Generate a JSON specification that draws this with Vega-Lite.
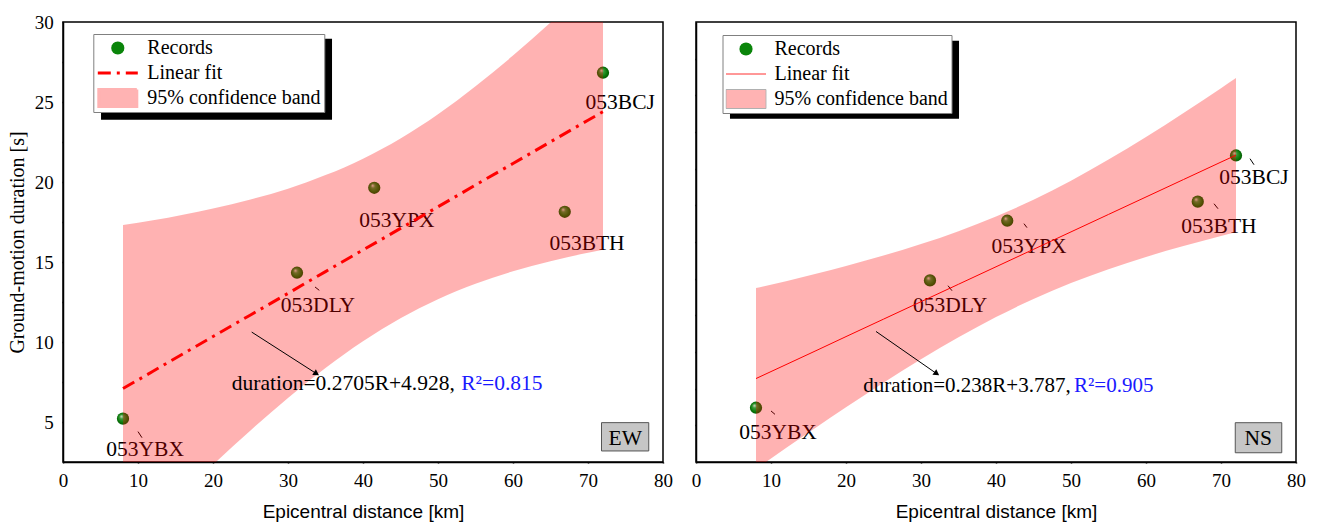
{
  "$schema": "https://vega.github.io/schema/vega-lite/v6.json",
  "padding": {"left": 6, "top": 12, "right": 5, "bottom": 5},
  "spacing": 33,
  "bounds": "flush",
  "resolve": {
    "scale": {"fill": "independent", "stroke": "independent", "shape": "independent", "strokeDash": "independent"},
    "legend": {"fill": "independent", "stroke": "independent", "shape": "independent", "strokeDash": "independent"}
  },
  "datasets": {
    "leg": [{"s": "Records"}, {"s": "Linear fit"}, {"s": "95% confidence band"}],
    "ew_shadow": [{"x": 5.07, "x2": 35.87, "y": 23.89, "y2": 28.96}],
    "ns_shadow": [{"x": 4.53, "x2": 35.07, "y": 23.41, "y2": 28.72}],
    "ew_pts": [
      {"x": 8, "y": 5.21}, {"x": 31.2, "y": 14.33}, {"x": 41.5, "y": 19.64}, {"x": 66.9, "y": 18.14}, {"x": 72, "y": 26.83}
    ],
    "ew_band": [
      {"x": 8, "lo": -3.13, "hi": 17.31, "fit": 7.09},
      {"x": 12, "lo": -1.27, "hi": 17.61, "fit": 8.17},
      {"x": 16, "lo": 0.56, "hi": 17.96, "fit": 9.26},
      {"x": 20, "lo": 2.33, "hi": 18.35, "fit": 10.34},
      {"x": 25, "lo": 4.47, "hi": 18.91, "fit": 11.69},
      {"x": 30, "lo": 6.5, "hi": 19.58, "fit": 13.04},
      {"x": 35, "lo": 8.37, "hi": 20.43, "fit": 14.4},
      {"x": 40, "lo": 10.04, "hi": 21.46, "fit": 15.75},
      {"x": 45, "lo": 11.48, "hi": 22.72, "fit": 17.1},
      {"x": 50, "lo": 12.67, "hi": 24.23, "fit": 18.45},
      {"x": 55, "lo": 13.64, "hi": 25.98, "fit": 19.81},
      {"x": 60, "lo": 14.42, "hi": 27.9, "fit": 21.16},
      {"x": 65, "lo": 15.05, "hi": 29.97, "fit": 22.51},
      {"x": 70, "lo": 15.58, "hi": 32.14, "fit": 23.86},
      {"x": 72, "lo": 15.77, "hi": 33.03, "fit": 24.4}
    ],
    "ew_lab": [
      {"x": 10.95, "y": 2.85, "t": "053YBX"},
      {"x": 34.0, "y": 11.89, "t": "053DLY"},
      {"x": 44.53, "y": 17.21, "t": "053YPX"},
      {"x": 69.87, "y": 15.77, "t": "053BTH"},
      {"x": 74.3, "y": 24.54, "t": "053BCJ"}
    ],
    "ew_lead": [
      {"x": 10.0, "y": 4.4, "x2": 10.53, "y2": 4.02},
      {"x": 33.6, "y": 13.44, "x2": 34.17, "y2": 13.23}
    ],
    "ew_arrow": [{"x": 25.16, "y": 10.62, "x2": 33.8, "y2": 8.02}],
    "ew_eq": [{"x": 22.5, "y": 6.98, "t": "duration=0.2705R+4.928,"}],
    "ew_r2": [{"x": 53.1, "y": 6.98, "t": "R²=0.815"}],
    "ew_tag": [{"x": 71.8, "x2": 78.1, "y": 3.19, "y2": 4.96, "cx": 74.97, "cy": 3.58, "t": "EW"}],
    "ns_pts": [
      {"x": 8, "y": 3.7}, {"x": 31.2, "y": 12.38}, {"x": 41.5, "y": 16.45}, {"x": 66.9, "y": 17.75}, {"x": 72, "y": 20.9}
    ],
    "ns_band": [
      {"x": 8, "lo": -0.48, "hi": 11.86, "fit": 5.69},
      {"x": 12, "lo": 0.95, "hi": 12.33, "fit": 6.64},
      {"x": 16, "lo": 2.35, "hi": 12.83, "fit": 7.59},
      {"x": 20, "lo": 3.73, "hi": 13.37, "fit": 8.55},
      {"x": 25, "lo": 5.4, "hi": 14.08, "fit": 9.74},
      {"x": 30, "lo": 7.0, "hi": 14.86, "fit": 10.93},
      {"x": 35, "lo": 8.5, "hi": 15.74, "fit": 12.12},
      {"x": 40, "lo": 9.88, "hi": 16.74, "fit": 13.31},
      {"x": 45, "lo": 11.12, "hi": 17.88, "fit": 14.5},
      {"x": 50, "lo": 12.2, "hi": 19.18, "fit": 15.69},
      {"x": 55, "lo": 13.14, "hi": 20.62, "fit": 16.88},
      {"x": 60, "lo": 13.98, "hi": 22.16, "fit": 18.07},
      {"x": 65, "lo": 14.72, "hi": 23.8, "fit": 19.26},
      {"x": 70, "lo": 15.41, "hi": 25.49, "fit": 20.45},
      {"x": 72, "lo": 15.66, "hi": 26.18, "fit": 20.92}
    ],
    "ns_lab": [
      {"x": 10.93, "y": 1.55, "t": "053YBX"},
      {"x": 33.87, "y": 10.23, "t": "053DLY"},
      {"x": 44.4, "y": 14.27, "t": "053YPX"},
      {"x": 69.73, "y": 15.63, "t": "053BTH"},
      {"x": 74.4, "y": 18.95, "t": "053BCJ"}
    ],
    "ns_lead": [
      {"x": 10.0, "y": 3.48, "x2": 10.53, "y2": 3.25},
      {"x": 33.6, "y": 12.02, "x2": 34.13, "y2": 11.68},
      {"x": 43.73, "y": 16.25, "x2": 44.13, "y2": 15.98},
      {"x": 69.07, "y": 17.61, "x2": 69.6, "y2": 17.27},
      {"x": 73.87, "y": 20.68, "x2": 74.4, "y2": 20.27}
    ],
    "ns_arrow": [{"x": 24.0, "y": 8.9, "x2": 32.1, "y2": 6.02}],
    "ns_eq": [{"x": 22.3, "y": 4.77, "t": "duration=0.238R+3.787,"}],
    "ns_r2": [{"x": 50.4, "y": 4.77, "t": "R²=0.905"}],
    "ns_tag": [{"x": 71.9, "x2": 78.1, "y": 0.63, "y2": 2.68, "cx": 74.97, "cy": 1.18, "t": "NS"}]
  },
  "hconcat": [
    {
      "width": 600,
      "height": 440,
      "layer": [
        {
          "data": {"name": "ew_pts"},
          "mark": {"type": "circle", "size": 150, "opacity": 1, "fill": {"gradient": "radial", "x1": 0.35, "y1": 0.3, "r1": 0, "x2": 0.5, "y2": 0.5, "r2": 0.55, "stops": [{"offset": 0, "color": "#f2e6dc"}, {"offset": 0.3, "color": "#3a9a3a"}, {"offset": 0.7, "color": "#0a7a0a"}, {"offset": 1, "color": "#005000"}]}},
          "encoding": {
            "x": {"field": "x", "type": "quantitative", "title": "Epicentral distance [km]", "scale": {"domain": [0, 80], "nice": false, "zero": false},
              "axis": {"values": [0,5,10,15,20,25,30,35,40,45,50,55,60,65,70,75,80], "labelPadding": 8, "labelExpr": "datum.value % 10 === 0 ? datum.label : ''", "labelFont": "Liberation Serif", "labelFontSize": 19, "titlePadding": 12, "titleFont": "Liberation Sans", "titleFontSize": 19,
                "encode": {"ticks": {"y2": {"condition": {"test": "datum.value % 10 === 0", "value": -8}, "value": -4.5}}}}},
            "y": {"field": "y", "type": "quantitative", "title": "Ground-motion duration [s]", "scale": {"domain": [2.5, 30], "nice": false, "zero": false},
              "axis": {"values": [5,7.5,10,12.5,15,17.5,20,22.5,25,27.5,30], "labelPadding": 8.7, "labelExpr": "datum.value % 5 === 0 ? datum.label : ''", "labelFont": "Liberation Serif", "labelFontSize": 19, "titlePadding": 7, "titleFont": "Liberation Serif", "titleFontSize": 20,
                "encode": {"ticks": {"x2": {"condition": {"test": "datum.value % 5 === 0", "value": 8}, "value": 4.5}}}}}
          }
        },
        {
          "data": {"name": "ew_shadow"},
          "mark": {"type": "rect", "fill": "black"},
          "encoding": {
            "x": {"field": "x", "type": "quantitative", "title": "Epicentral distance [km]"},
            "x2": {"field": "x2"},
            "y": {"field": "y", "type": "quantitative", "title": "Ground-motion duration [s]"},
            "y2": {"field": "y2"}
          }
        },
        {
          "data": {"name": "ew_lab"},
          "mark": {"type": "text", "font": "Liberation Serif", "fontSize": 21.5, "align": "center", "baseline": "alphabetic", "color": "black"},
          "encoding": {
            "x": {"field": "x", "type": "quantitative", "title": "Epicentral distance [km]"},
            "y": {"field": "y", "type": "quantitative", "title": "Ground-motion duration [s]"},
            "text": {"field": "t"}
          }
        },
        {
          "data": {"name": "ew_lead"},
          "mark": {"type": "rule", "color": "black", "strokeWidth": 1},
          "encoding": {
            "x": {"field": "x", "type": "quantitative", "title": "Epicentral distance [km]"},
            "y": {"field": "y", "type": "quantitative", "title": "Ground-motion duration [s]"},
            "x2": {"field": "x2"}, "y2": {"field": "y2"}
          }
        },
        {
          "data": {"name": "ew_band"},
          "mark": {"type": "area", "color": "#ff0000", "opacity": 0.3, "clip": true, "interpolate": "monotone"},
          "encoding": {
            "x": {"field": "x", "type": "quantitative", "title": "Epicentral distance [km]"},
            "y": {"field": "lo", "type": "quantitative", "title": "Ground-motion duration [s]"},
            "y2": {"field": "hi"}
          }
        },
        {
          "data": {"name": "ew_band"},
          "mark": {"type": "line", "color": "#ff0000", "strokeWidth": 3, "strokeDash": [13, 6, 3, 6], "clip": true},
          "encoding": {
            "x": {"field": "x", "type": "quantitative", "title": "Epicentral distance [km]"},
            "y": {"field": "fit", "type": "quantitative", "title": "Ground-motion duration [s]"}
          }
        },
        {
          "data": {"name": "ew_arrow"},
          "mark": {"type": "rule", "color": "black", "strokeWidth": 1},
          "encoding": {
            "x": {"field": "x", "type": "quantitative", "title": "Epicentral distance [km]"},
            "y": {"field": "y", "type": "quantitative", "title": "Ground-motion duration [s]"},
            "x2": {"field": "x2"}, "y2": {"field": "y2"}
          }
        },
        {
          "data": {"name": "ew_arrow"},
          "mark": {"type": "point", "shape": "triangle-right", "angle": 33, "size": 45, "filled": true, "color": "black", "opacity": 1},
          "encoding": {
            "x": {"field": "x2", "type": "quantitative", "title": "Epicentral distance [km]"},
            "y": {"field": "y2", "type": "quantitative", "title": "Ground-motion duration [s]"}
          }
        },
        {
          "data": {"name": "ew_eq"},
          "mark": {"type": "text", "font": "Liberation Serif", "fontSize": 21.5, "align": "left", "baseline": "alphabetic", "color": "black"},
          "encoding": {
            "x": {"field": "x", "type": "quantitative", "title": "Epicentral distance [km]"},
            "y": {"field": "y", "type": "quantitative", "title": "Ground-motion duration [s]"},
            "text": {"field": "t"}
          }
        },
        {
          "data": {"name": "ew_r2"},
          "mark": {"type": "text", "font": "Liberation Serif", "fontSize": 21.5, "align": "left", "baseline": "alphabetic", "color": "#1a1aff"},
          "encoding": {
            "x": {"field": "x", "type": "quantitative", "title": "Epicentral distance [km]"},
            "y": {"field": "y", "type": "quantitative", "title": "Ground-motion duration [s]"},
            "text": {"field": "t"}
          }
        },
        {
          "data": {"name": "ew_tag"},
          "mark": {"type": "rect", "fill": "#c6c6c6", "stroke": "#555555", "strokeWidth": 1},
          "encoding": {
            "x": {"field": "x", "type": "quantitative", "title": "Epicentral distance [km]"},
            "x2": {"field": "x2"},
            "y": {"field": "y", "type": "quantitative", "title": "Ground-motion duration [s]"},
            "y2": {"field": "y2"}
          }
        },
        {
          "data": {"name": "ew_tag"},
          "mark": {"type": "text", "font": "Liberation Serif", "fontSize": 21.5, "align": "center", "baseline": "alphabetic", "color": "black"},
          "encoding": {
            "x": {"field": "cx", "type": "quantitative", "title": "Epicentral distance [km]"},
            "y": {"field": "cy", "type": "quantitative", "title": "Ground-motion duration [s]"},
            "text": {"field": "t"}
          }
        },
        {
          "data": {"name": "leg"},
          "mark": {"type": "point", "filled": true, "opacity": 0},
          "encoding": {
            "fill": {"field": "s", "type": "nominal",
              "scale": {"domain": ["Records", "Linear fit", "95% confidence band"], "range": ["#0a850a", "transparent", "#ffb3b3"]},
              "legend": {"title": null, "orient": "none", "legendX": 30.3, "legendY": 12, "padding": 3, "symbolSize": 1600, "symbolStrokeWidth": 3, "symbolOpacity": 1, "labelOffset": 8, "rowPadding": 3, "clipHeight": 22, "labelLimit": 400,
                "labelFont": "Liberation Serif", "labelFontSize": 20, "labelColor": "black", "fillColor": "white", "strokeColor": "#808080"}},
            "stroke": {"field": "s", "type": "nominal",
              "scale": {"domain": ["Records", "Linear fit", "95% confidence band"], "range": ["transparent", "#ff0000", "#ffb3b3"]}},
            "shape": {"field": "s", "type": "nominal",
              "scale": {"domain": ["Records", "Linear fit", "95% confidence band"], "range": ["M0.33,0L0.305,0.126L0.233,0.233L0.126,0.305L0,0.33L-0.126,0.305L-0.233,0.233L-0.305,0.126L-0.33,0L-0.305,-0.126L-0.233,-0.233L-0.126,-0.305L0,-0.33L0.126,-0.305L0.233,-0.233L0.305,-0.126Z", "M-1,0H1", "M-0.95,-0.43H0.95V0.43H-0.95Z"]}},
            "strokeDash": {"field": "s", "type": "nominal",
              "scale": {"domain": ["Records", "Linear fit", "95% confidence band"], "range": [[1, 0], [13, 6, 3, 6], [1, 0]]}}
          }
        }
      ]
    },
    {
      "width": 600,
      "height": 440,
      "layer": [
        {
          "data": {"name": "ns_pts"},
          "mark": {"type": "circle", "size": 150, "opacity": 1, "fill": {"gradient": "radial", "x1": 0.35, "y1": 0.3, "r1": 0, "x2": 0.5, "y2": 0.5, "r2": 0.55, "stops": [{"offset": 0, "color": "#f2e6dc"}, {"offset": 0.3, "color": "#3a9a3a"}, {"offset": 0.7, "color": "#0a7a0a"}, {"offset": 1, "color": "#005000"}]}},
          "encoding": {
            "x": {"field": "x", "type": "quantitative", "title": "Epicentral distance [km]", "scale": {"domain": [0, 80], "nice": false, "zero": false},
              "axis": {"values": [0,5,10,15,20,25,30,35,40,45,50,55,60,65,70,75,80], "labelPadding": 8, "labelExpr": "datum.value % 10 === 0 ? datum.label : ''", "labelFont": "Liberation Serif", "labelFontSize": 19, "titlePadding": 12, "titleFont": "Liberation Sans", "titleFontSize": 19,
                "encode": {"ticks": {"y2": {"condition": {"test": "datum.value % 10 === 0", "value": -8}, "value": -4.5}}}}},
            "y": {"field": "y", "type": "quantitative", "title": null, "scale": {"domain": [0, 30], "nice": false, "zero": false},
              "axis": {"values": [2.5,5,7.5,10,12.5,15,17.5,20,22.5,25,27.5], "labels": false,
                "encode": {"ticks": {"x2": {"condition": {"test": "datum.value % 5 === 0", "value": 8}, "value": 4.5}}}}}
          }
        },
        {
          "data": {"name": "ns_shadow"},
          "mark": {"type": "rect", "fill": "black"},
          "encoding": {
            "x": {"field": "x", "type": "quantitative", "title": "Epicentral distance [km]"},
            "x2": {"field": "x2"},
            "y": {"field": "y", "type": "quantitative", "title": null},
            "y2": {"field": "y2"}
          }
        },
        {
          "data": {"name": "ns_lab"},
          "mark": {"type": "text", "font": "Liberation Serif", "fontSize": 21.5, "align": "center", "baseline": "alphabetic", "color": "black"},
          "encoding": {
            "x": {"field": "x", "type": "quantitative", "title": "Epicentral distance [km]"},
            "y": {"field": "y", "type": "quantitative", "title": null},
            "text": {"field": "t"}
          }
        },
        {
          "data": {"name": "ns_lead"},
          "mark": {"type": "rule", "color": "black", "strokeWidth": 1},
          "encoding": {
            "x": {"field": "x", "type": "quantitative", "title": "Epicentral distance [km]"},
            "y": {"field": "y", "type": "quantitative", "title": null},
            "x2": {"field": "x2"}, "y2": {"field": "y2"}
          }
        },
        {
          "data": {"name": "ns_band"},
          "mark": {"type": "area", "color": "#ff0000", "opacity": 0.3, "clip": true, "interpolate": "monotone"},
          "encoding": {
            "x": {"field": "x", "type": "quantitative", "title": "Epicentral distance [km]"},
            "y": {"field": "lo", "type": "quantitative", "title": null},
            "y2": {"field": "hi"}
          }
        },
        {
          "data": {"name": "ns_band"},
          "mark": {"type": "line", "color": "#ff0000", "strokeWidth": 1, "clip": true},
          "encoding": {
            "x": {"field": "x", "type": "quantitative", "title": "Epicentral distance [km]"},
            "y": {"field": "fit", "type": "quantitative", "title": null}
          }
        },
        {
          "data": {"name": "ns_arrow"},
          "mark": {"type": "rule", "color": "black", "strokeWidth": 1},
          "encoding": {
            "x": {"field": "x", "type": "quantitative", "title": "Epicentral distance [km]"},
            "y": {"field": "y", "type": "quantitative", "title": null},
            "x2": {"field": "x2"}, "y2": {"field": "y2"}
          }
        },
        {
          "data": {"name": "ns_arrow"},
          "mark": {"type": "point", "shape": "triangle-right", "angle": 35, "size": 45, "filled": true, "color": "black", "opacity": 1},
          "encoding": {
            "x": {"field": "x2", "type": "quantitative", "title": "Epicentral distance [km]"},
            "y": {"field": "y2", "type": "quantitative", "title": null}
          }
        },
        {
          "data": {"name": "ns_eq"},
          "mark": {"type": "text", "font": "Liberation Serif", "fontSize": 21, "align": "left", "baseline": "alphabetic", "color": "black"},
          "encoding": {
            "x": {"field": "x", "type": "quantitative", "title": "Epicentral distance [km]"},
            "y": {"field": "y", "type": "quantitative", "title": null},
            "text": {"field": "t"}
          }
        },
        {
          "data": {"name": "ns_r2"},
          "mark": {"type": "text", "font": "Liberation Serif", "fontSize": 21, "align": "left", "baseline": "alphabetic", "color": "#1a1aff"},
          "encoding": {
            "x": {"field": "x", "type": "quantitative", "title": "Epicentral distance [km]"},
            "y": {"field": "y", "type": "quantitative", "title": null},
            "text": {"field": "t"}
          }
        },
        {
          "data": {"name": "ns_tag"},
          "mark": {"type": "rect", "fill": "#c6c6c6", "stroke": "#555555", "strokeWidth": 1},
          "encoding": {
            "x": {"field": "x", "type": "quantitative", "title": "Epicentral distance [km]"},
            "x2": {"field": "x2"},
            "y": {"field": "y", "type": "quantitative", "title": null},
            "y2": {"field": "y2"}
          }
        },
        {
          "data": {"name": "ns_tag"},
          "mark": {"type": "text", "font": "Liberation Serif", "fontSize": 21.5, "align": "center", "baseline": "alphabetic", "color": "black"},
          "encoding": {
            "x": {"field": "cx", "type": "quantitative", "title": "Epicentral distance [km]"},
            "y": {"field": "cy", "type": "quantitative", "title": null},
            "text": {"field": "t"}
          }
        },
        {
          "data": {"name": "leg"},
          "mark": {"type": "point", "filled": true, "opacity": 0},
          "encoding": {
            "fill": {"field": "s", "type": "nominal",
              "scale": {"domain": ["Records", "Linear fit", "95% confidence band"], "range": ["#0a850a", "transparent", "#ffb3b3"]},
              "legend": {"title": null, "orient": "none", "legendX": 26.5, "legendY": 13, "padding": 3, "symbolSize": 1600, "symbolStrokeWidth": 1, "symbolOpacity": 1, "labelOffset": 8, "rowPadding": 3, "clipHeight": 22, "labelLimit": 400,
                "labelFont": "Liberation Serif", "labelFontSize": 20, "labelColor": "black", "fillColor": "white", "strokeColor": "#808080"}},
            "stroke": {"field": "s", "type": "nominal",
              "scale": {"domain": ["Records", "Linear fit", "95% confidence band"], "range": ["transparent", "#ff3030", "#b0b0b0"]}},
            "shape": {"field": "s", "type": "nominal",
              "scale": {"domain": ["Records", "Linear fit", "95% confidence band"], "range": ["M0.33,0L0.305,0.126L0.233,0.233L0.126,0.305L0,0.33L-0.126,0.305L-0.233,0.233L-0.305,0.126L-0.33,0L-0.305,-0.126L-0.233,-0.233L-0.126,-0.305L0,-0.33L0.126,-0.305L0.233,-0.233L0.305,-0.126Z", "M-1,0H1", "M-1,-0.475H1V0.475H-1Z"]}},
            "strokeDash": {"field": "s", "type": "nominal",
              "scale": {"domain": ["Records", "Linear fit", "95% confidence band"], "range": [[1, 0], [1, 0], [1, 0]]}}
          }
        }
      ]
    }
  ],
  "config": {
    "font": "Liberation Serif",
    "background": "white",
    "view": {"stroke": "black", "strokeWidth": 1.5},
    "legend": {"symbolOpacity": 1},
    "axis": {"domainColor": "black", "domainWidth": 1.5, "tickColor": "black", "tickWidth": 1.5, "tickSize": 1, "labelFont": "Liberation Serif", "labelFontSize": 19, "labelColor": "black", "titleColor": "black", "titleFontWeight": "normal", "grid": false, "labelFlush": false, "labelOverlap": false}
  }
}
